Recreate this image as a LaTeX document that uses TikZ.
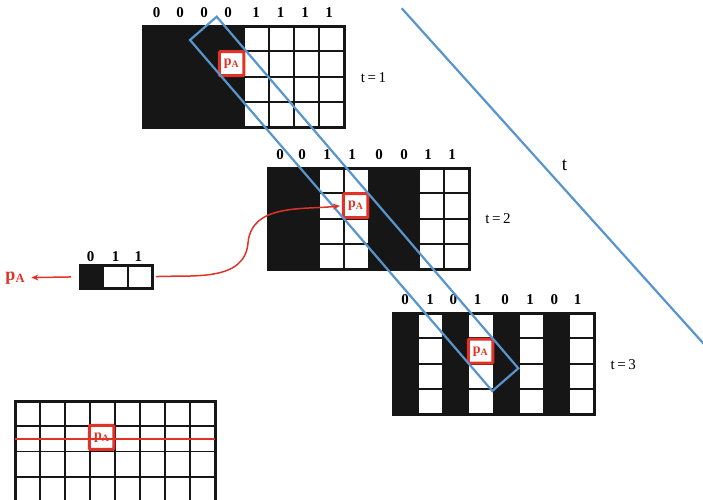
\documentclass[tikz,border=0pt]{standalone}
\usepackage{fontspec}
\setmainfont{Liberation Serif}
\usetikzlibrary{arrows.meta}
\definecolor{myred}{RGB}{224,50,38}
\definecolor{myblue}{RGB}{88,148,206}
\definecolor{cellblack}{RGB}{22,22,22}
\tikzset{
 gridline/.style={line width=1.8pt,cellblack},
 gridborder/.style={line width=3pt,cellblack},
 digit/.style={font=\fontsize{15}{15}\selectfont\bfseries, inner sep=0},
 tlab/.style={font=\fontsize{15}{15}\selectfont, inner sep=0},
 pabox/.style={draw=myred, line width=3pt, fill=white, text=myred, minimum width=24.5pt, minimum height=24pt, inner sep=0, font=\fontsize{14}{14}\selectfont\bfseries, rounded corners=1pt},
 blueline/.style={draw=myblue, line width=2.2pt},
 redarrow/.style={draw=myred, line width=1.5pt, -{Stealth[length=7pt,width=6pt]}},
}
\newcommand\pAtext{p\textsubscript{A}}
\newcommand\mygrid[3]{%
 \foreach \i in {1,...,7} \draw[gridline] ({#1+\i*25.125},#2) -- ++(0,101.5);
 \foreach \j in {1,2,3} \draw[gridline] (#1,{#2+\j*25.375}) -- ++(201,0);
 \foreach \c in {#3} \fill[cellblack] ({#1+\c*25.125-1},#2) rectangle ++(27.125,101.5);
 \draw[gridborder] (#1,#2) rectangle ++(201,101.5);
}
\begin{document}
\begin{tikzpicture}[x=1pt,y=-1pt]
\useasboundingbox (0,0) rectangle (703,499);

% grids
\mygrid{143.5}{26}{0,1,2,3}
\mygrid{268.5}{168}{0,1,4,5}
\mygrid{393}{313}{0,2,4,6}

% bottom-left grid (cut by the page edge)
\foreach \i in {1,...,7} \draw[gridline] ({15+\i*25},401) -- ++(0,110);
\foreach \j in {1,2,3} \draw[gridline] (15,{401+\j*25.2}) -- ++(200,0);
\draw[gridborder] (15,401) rectangle (215,502.6);

% digits
\foreach \x/\d [count=\k] in {156.7/0,180/0,204/0,228/0,256/1,280.7/1,305/1,329/1}
  \node[digit] (top\k) at (\x,13) {\d};
\foreach \x/\d [count=\k] in {280/0,302/0,327/1,352/1,379/0,404/0,428/1,452/1}
  \node[digit] (mid\k) at (\x,155) {\d};
\foreach \x/\d [count=\k] in {405/0,430/1,453.3/0,477.7/1,505/0,530/1,554.3/0,577.7/1}
  \node[digit] (bot\k) at (\x,300) {\d};

% time labels
\node[tlab] (t1) at (373.5,78) {t\,=\,1};
\node[tlab] (t2) at (498,219) {t\,=\,2};
\node[tlab] (t3) at (623.3,365) {t\,=\,3};
\node[font=\fontsize{19}{19}\selectfont, inner sep=0] (tbig) at (564.5,165) {t};

% pA boxes
\node[pabox] (pA1) at (231.5,63.7) {\pAtext};
\node[pabox] (pA2) at (355.7,205.7) {\pAtext};
\node[pabox] (pA3) at (480.5,351.2) {\pAtext};
\node[pabox] (pA4) at (101.7,437.4) {\pAtext};

% red scan line in bottom-left grid
\coordinate (sl) at (15,439);
\coordinate (sr) at (215,439);
\draw[myred, line width=1.5pt] (sl) -- (sr);

% blue slab and time axis
\draw[blueline] (190,40) -- (216.7,16.7) -- (518.3,368.3) -- (492.3,391) -- cycle;
\coordinate (ta) at (401.7,8.3);
\coordinate (tb) at (712,353);
\draw[blueline] (ta) -- (tb);

% small bar
\node[minimum width=72pt, minimum height=22.5pt, inner sep=0] (bar) at (116.2,276.8) {};
\draw[gridline] (128.3,265.5) -- (128.3,288);
\fill[cellblack] (bar.north west) rectangle (104.3,288);
\draw[line width=2.5pt, cellblack] (bar.north west) rectangle (bar.south east);
\foreach \x/\d [count=\k] in {90.7/0,115.7/1,138.3/1}
  \node[digit] (bard\k) at (\x,256.7) {\d};

% left pA label and arrows
\node[text=myred, font=\fontsize{18}{18}\selectfont\bfseries, inner sep=0] (pAl) at (15.3,277.7) {\pAtext};
\draw[redarrow, shorten <=9pt, shorten >=6pt] (bar.west) -- (pAl.east);
\coordinate (cmid) at (248,243);
\draw[redarrow, shorten <=3.5pt, shorten >=2pt] (bar.east) to[out=3,in=-95] (cmid) to[out=85,in=186] (pA2.west);
\end{tikzpicture}
\end{document}
